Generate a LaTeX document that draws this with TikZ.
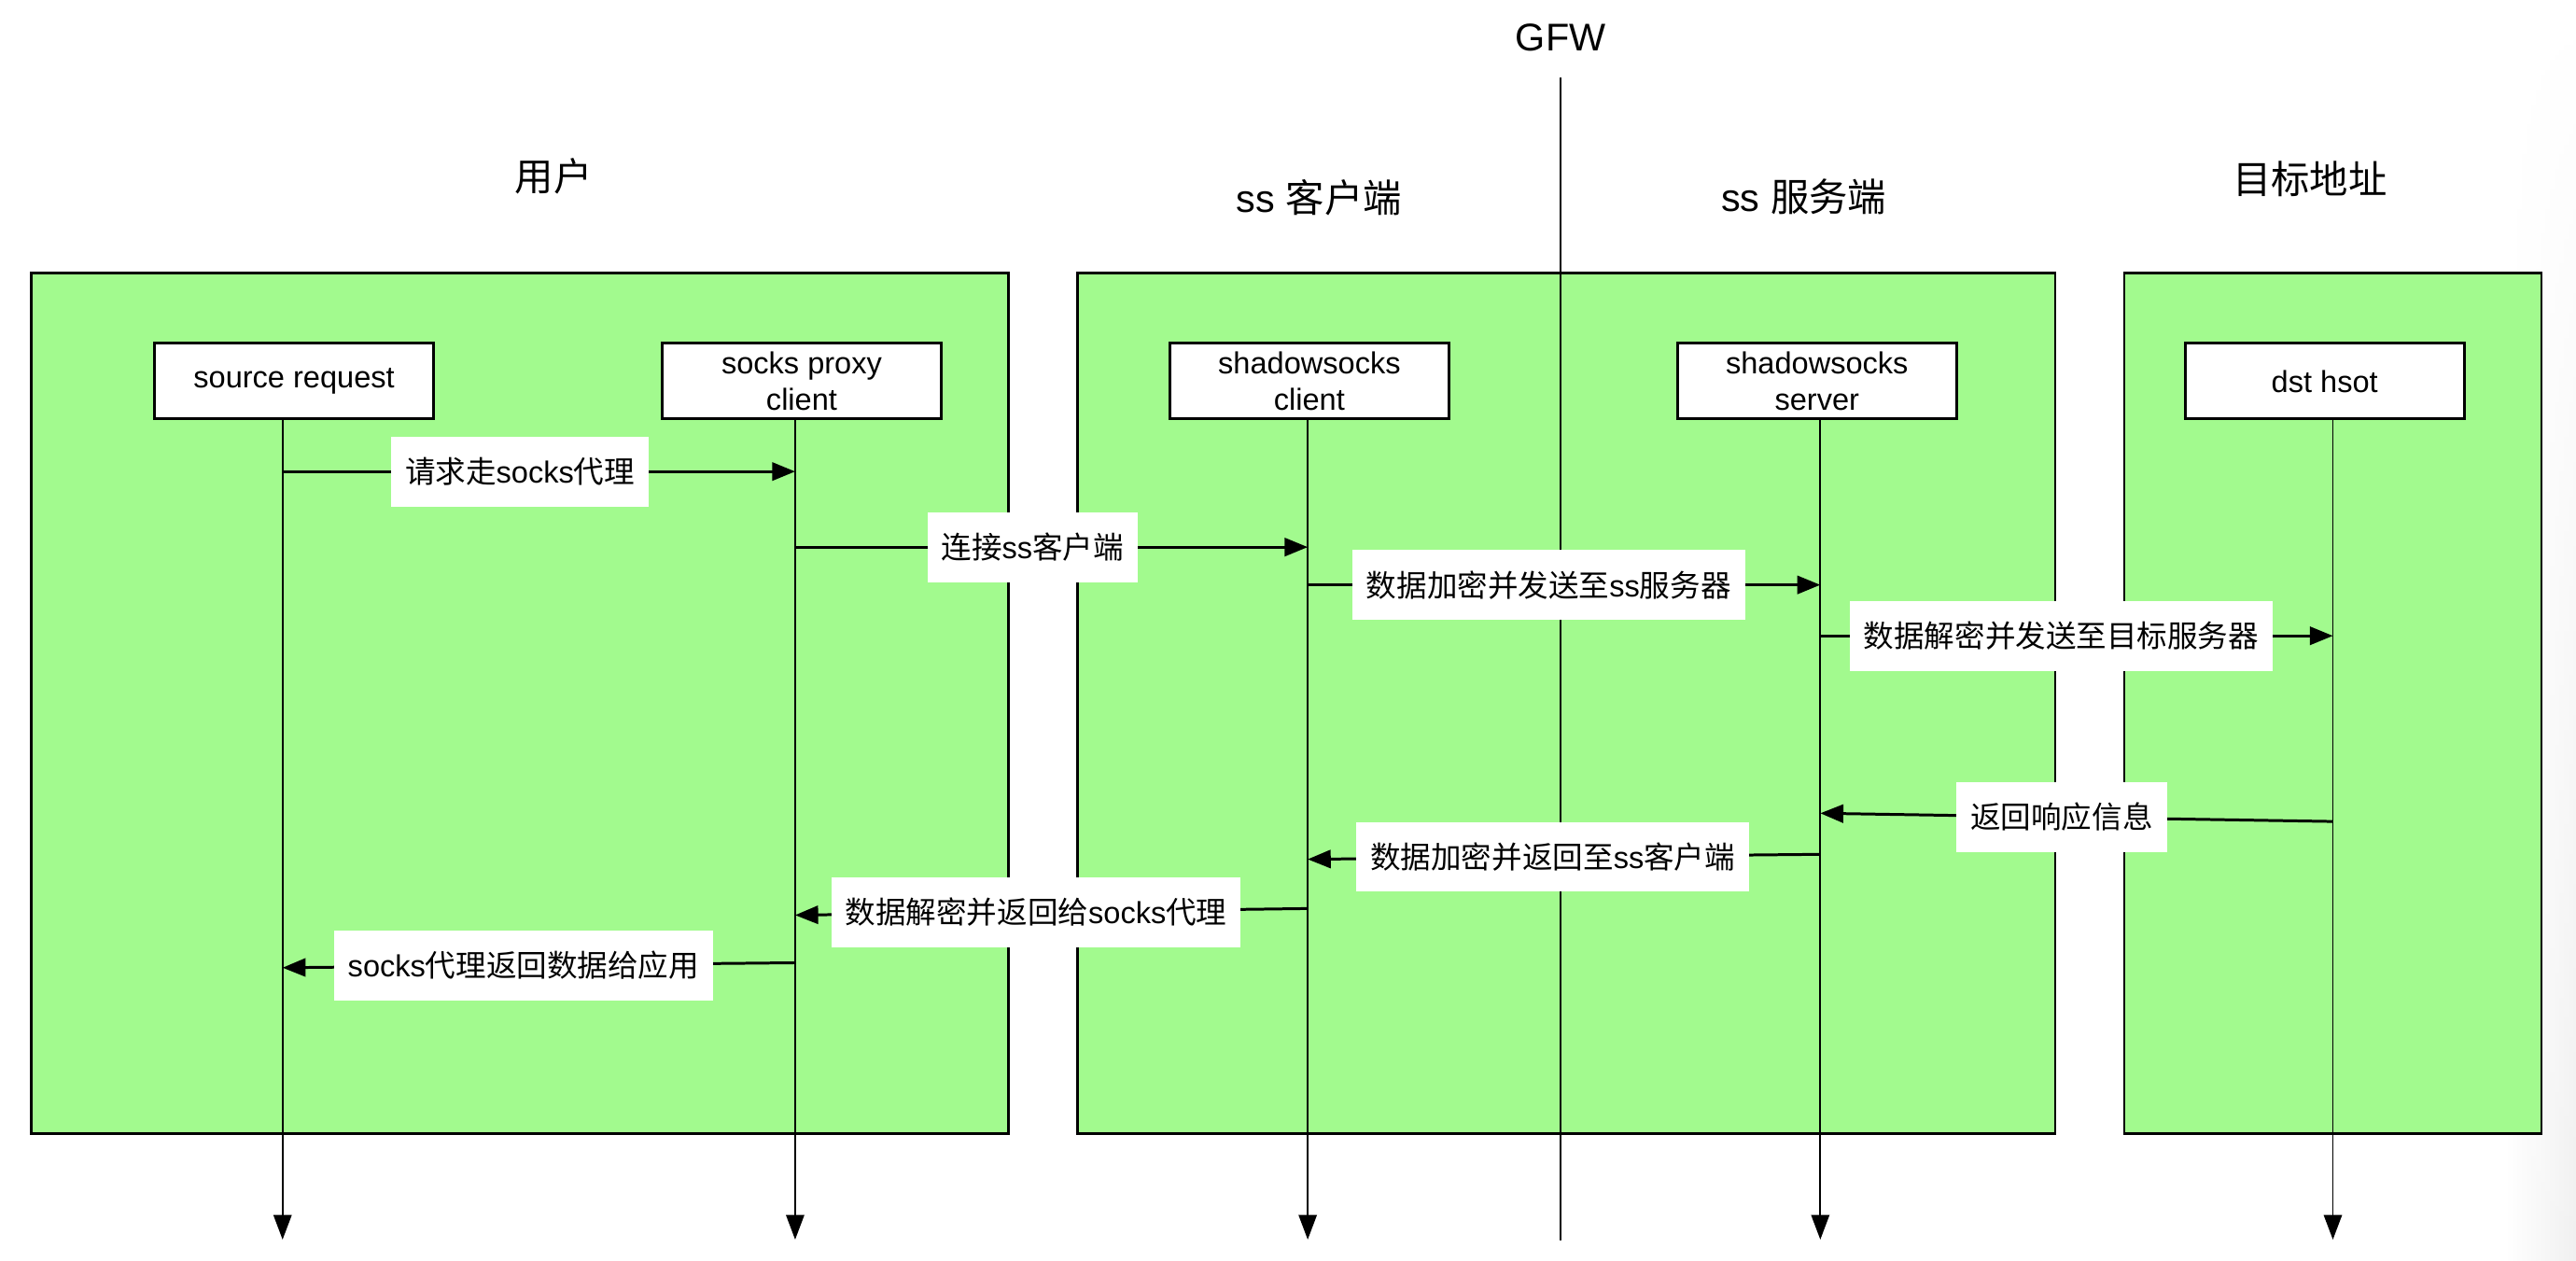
\documentclass[tikz,border=0pt]{standalone}
\usepackage{fontspec}
\setmainfont{Liberation Sans}
\newfontfamily\cjk{Noto Sans CJK SC}
\usetikzlibrary{arrows.meta,positioning,fadings}
\newcommand\zh[1]{{\cjk #1}}
\definecolor{grp}{RGB}{162,250,142}
\begin{document}
\begin{tikzpicture}[x=1pt,y=-1pt,
  every node/.style={inner sep=0pt,outer sep=0pt},
  titletxt/.style={font=\fontsize{23.5}{28}\selectfont},
  grpbox/.style={draw=black,line width=1.6pt,fill=grp,anchor=north west,minimum height=524pt},
  actor/.style={draw=black,line width=1.6pt,fill=white,anchor=north west,minimum width=170pt,minimum height=46pt,align=center,font=\fontsize{18.5}{22}\selectfont},
  lifeline/.style={line width=1.1pt,-{Triangle[length=15pt,width=11pt]}},
  gfwline/.style={line width=1.1pt},
  msg/.style={line width=1.7pt,-{Triangle[length=14pt,width=11pt]}},
  lbl/.style={fill=white,inner xsep=8.5pt,minimum height=42.5pt,font=\fontsize{18.5}{22}\selectfont}
]
\useasboundingbox (0,0) rectangle (1568,767);
\shade[left color=white,right color=black!6,path fading=north] (1525,0) rectangle (1568,767);

% titles
\node[titletxt] (tgfw) at (950,23) {GFW};
\node[titletxt] (tuser) at (337,107) {\zh{用户}};
\node[titletxt] (tcli) at (803,120) {ss \zh{客户端}};
\node[titletxt] (tsrv) at (1098,120) {ss \zh{服务端}};
\node[titletxt] (tdst) at (1406,109) {\zh{目标地址}};

% groups
\node[grpbox,minimum width=595pt] (g1) at (19,166) {};
\node[grpbox,minimum width=595pt] (g2) at (656,166) {};
\node[grpbox,minimum width=254pt] (g3) at (1293,166) {};

% GFW line
\coordinate (gfwT) at (950,47);
\coordinate (gfwB) at (950,755);
\draw[gfwline] (gfwT) -- (gfwB);

% actors
\node[actor] (a1) at (94,209) {\raisebox{-1.5pt}{source request}};
\node[actor] (a2) at (403,209) {socks proxy\\client};
\node[actor] (a3) at (712,209) {shadowsocks\\client};
\node[actor] (a4) at (1021,209) {shadowsocks\\server};
\node[actor] (a5) at (1330,209) {\raisebox{-1.5pt}{dst hsot}};

% lifelines
\foreach \i/\x in {1/172,2/484,3/796,4/1108,5/1420}{
  \coordinate (l\i t) at (\x,255);
  \coordinate (l\i b) at (\x,754.5);
}
\foreach \i in {1,...,5}{ \draw[lifeline] (l\i t) -- (l\i b); }

% message end points
\coordinate (m1a) at (172,287);  \coordinate (m1b) at (484,287);
\coordinate (m2a) at (484,333);  \coordinate (m2b) at (796,333);
\coordinate (m3a) at (796,356);  \coordinate (m3b) at (1108,356);
\coordinate (m4a) at (1108,387); \coordinate (m4b) at (1420,387);
\coordinate (m5a) at (1420,500); \coordinate (m5b) at (1108,495);
\coordinate (m6a) at (1108,520); \coordinate (m6b) at (796,523);
\coordinate (m7a) at (796,553);  \coordinate (m7b) at (484,557);
\coordinate (m8a) at (484,586);  \coordinate (m8b) at (172,589);

\draw[msg] (m1a) -- node[lbl,pos=0.463] (L1) {\zh{请求走}socks\zh{代理}} (m1b);
\draw[msg] (m2a) -- node[lbl,pos=0.463] (L2) {\zh{连接}ss\zh{客户端}} (m2b);
\draw[msg] (m3a) -- node[lbl,pos=0.47] (L3) {\zh{数据加密并发送至}ss\zh{服务器}} (m3b);
\draw[msg] (m4a) -- node[lbl,pos=0.47] (L4) {\zh{数据解密并发送至目标服务器}} (m4b);
\draw[msg] (m5a) -- node[lbl,pos=0.529] (L5) {\zh{返回响应信息}} (m5b);
\draw[msg] (m6a) -- node[lbl,pos=0.522] (L6) {\zh{数据加密并返回至}ss\zh{客户端}} (m6b);
\draw[msg] (m7a) -- node[lbl,pos=0.53] (L7) {\zh{数据解密并返回给}socks\zh{代理}} (m7b);
\draw[msg] (m8a) -- node[lbl,pos=0.53] (L8) {socks\zh{代理返回数据给应用}} (m8b);
\end{tikzpicture}
\end{document}
